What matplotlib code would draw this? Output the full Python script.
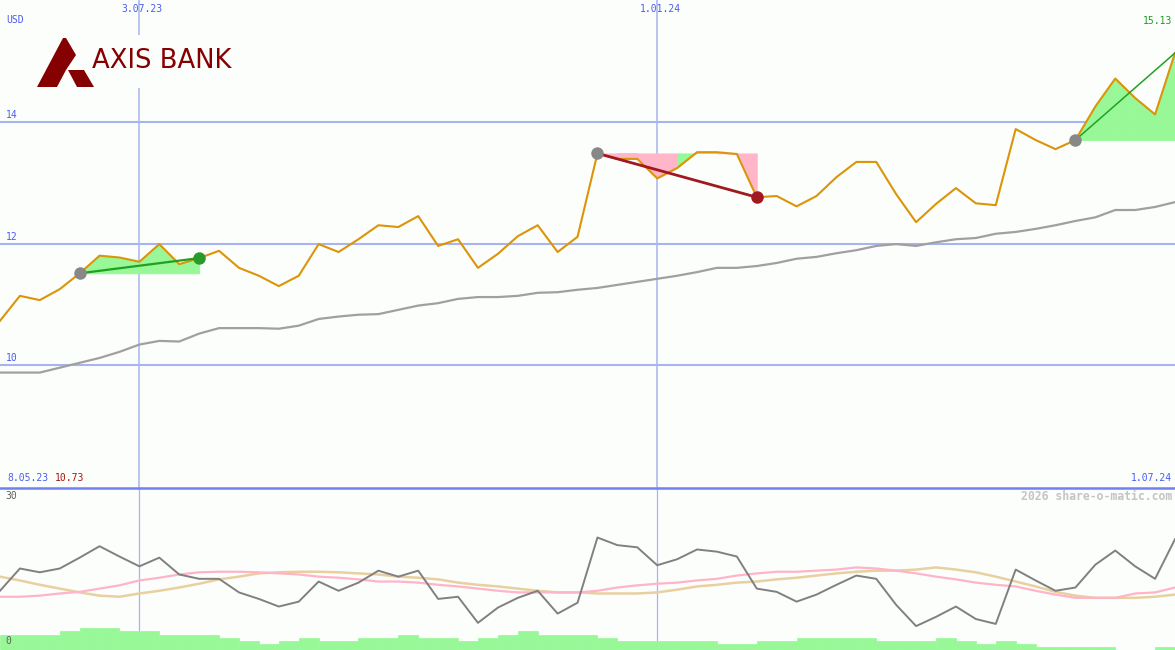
import matplotlib
matplotlib.use('Agg')
import matplotlib.pyplot as plt
import matplotlib.transforms as mtrans
from matplotlib.patches import Polygon, Rectangle
from matplotlib.lines import Line2D
import pandas as pd

# ---------------- data ----------------
dates = pd.date_range('2023-05-15', periods=60, freq='7D')

price = [10.73, 11.14, 11.07, 11.25, 11.51, 11.80, 11.77, 11.70, 11.99, 11.66,
         11.76, 11.88, 11.60, 11.47, 11.30, 11.47, 11.99, 11.86, 12.07, 12.30,
         12.27, 12.45, 11.96, 12.07, 11.60, 11.83, 12.12, 12.30, 11.86, 12.11,
         13.48, 13.39, 13.39, 13.07, 13.24, 13.50, 13.50, 13.47, 12.76, 12.78,
         12.61, 12.78, 13.09, 13.34, 13.34, 12.81, 12.35, 12.65, 12.91, 12.66,
         12.63, 13.88, 13.70, 13.55, 13.70, 14.25, 14.71, 14.39, 14.12, 15.13]

moving_avg = [9.88, 9.88, 9.88, 9.96, 10.04, 10.12, 10.22, 10.34, 10.40, 10.39,
              10.52, 10.61, 10.61, 10.61, 10.60, 10.65, 10.76, 10.80, 10.83, 10.84,
              10.91, 10.98, 11.02, 11.09, 11.12, 11.12, 11.14, 11.19, 11.20, 11.24,
              11.27, 11.32, 11.37, 11.42, 11.47, 11.53, 11.60, 11.60, 11.63, 11.68,
              11.75, 11.78, 11.84, 11.89, 11.96, 11.99, 11.96, 12.02, 12.07, 12.09,
              12.16, 12.19, 12.24, 12.30, 12.37, 12.43, 12.55, 12.55, 12.60, 12.68]

osc_main = [10.9, 15.0, 14.3, 15.0, 17.0, 19.1, 17.2, 15.4, 17.0, 13.9,
            13.1, 13.1, 10.6, 9.4, 8.0, 8.9, 12.6, 10.9, 12.4, 14.6,
            13.5, 14.6, 9.4, 9.8, 5.0, 7.8, 9.6, 10.9, 6.7, 8.7,
            20.7, 19.3, 18.9, 15.6, 16.7, 18.5, 18.1, 17.2, 11.3, 10.7,
            8.9, 10.2, 12.0, 13.7, 13.1, 8.3, 4.4, 6.1, 8.0, 5.7,
            4.8, 14.8, 12.8, 10.9, 11.5, 15.7, 18.3, 15.4, 13.1, 20.4]

osc_pink = [9.8, 9.8, 10.0, 10.4, 10.7, 11.3, 11.9, 12.8, 13.3, 13.9,
            14.3, 14.4, 14.4, 14.3, 14.1, 13.9, 13.5, 13.3, 13.0, 12.6,
            12.6, 12.4, 12.0, 11.7, 11.3, 10.9, 10.6, 10.6, 10.6, 10.6,
            10.9, 11.5, 11.9, 12.2, 12.4, 12.8, 13.1, 13.7, 14.1, 14.4,
            14.4, 14.6, 14.8, 15.2, 15.0, 14.6, 14.1, 13.5, 13.0, 12.4,
            12.0, 11.7, 10.9, 10.2, 9.6, 9.6, 9.6, 10.4, 10.6, 11.5]

osc_tan = [13.5, 12.8, 12.0, 11.3, 10.6, 10.0, 9.8, 10.4, 10.9, 11.5,
           12.2, 13.0, 13.5, 14.1, 14.3, 14.4, 14.4, 14.3, 14.1, 13.9,
           13.5, 13.3, 13.0, 12.4, 12.0, 11.7, 11.3, 10.9, 10.6, 10.6,
           10.4, 10.4, 10.4, 10.6, 11.1, 11.7, 12.0, 12.4, 12.6, 13.0,
           13.3, 13.7, 14.1, 14.4, 14.6, 14.6, 14.8, 15.2, 14.8, 14.3,
           13.5, 12.6, 11.7, 10.7, 10.0, 9.6, 9.6, 9.6, 9.8, 10.2]

volume = [2.8, 2.8, 2.8, 3.5, 4.05, 4.05, 3.5, 3.5, 2.8, 2.8,
          2.8, 2.2, 1.66, 1.1, 1.66, 2.2, 1.66, 1.66, 2.2, 2.2,
          2.8, 2.2, 2.2, 1.66, 2.2, 2.8, 3.5, 2.8, 2.8, 2.8,
          2.2, 1.66, 1.66, 1.66, 1.66, 1.66, 1.1, 1.1, 1.66, 1.66,
          2.2, 2.2, 2.2, 2.2, 1.66, 1.66, 1.66, 2.2, 1.66, 1.1,
          1.66, 1.1, 0.55, 0.55, 0.55, 0.55, 0.0, 0.0, 0.55]

trend_start = [4, 30, 54]
trend_end = [10, 38, 59]
trend_color = ['#22a022', '#a01820', '#22a022']
trend_width = [1.6, 2.0, 1.1]
end_marker = ['#2a9a2a', '#a01820', None]
# fill colour per week inside each trend window
fill_cols = [['g'] * 6,
             ['p', 'p', 'p', 'p', 'g', 'g', 'p', 'p'],
             ['g'] * 5]

grid_dates = [pd.Timestamp('2023-07-03'), pd.Timestamp('2024-01-01')]
grid_labels = ['3.07.23', '1.01.24']
price_ticks = [10, 12, 14]

# ---------------- styling ----------------
W, H = 1175, 650
bg = '#fcfefc'
grid_c = '#a8b4f0'
blue_txt = '#4a5cf0'
orange = '#dc9408'
fgreen = '#98f898'
fpink = '#ffb6c8'
mono = ['DejaVu Sans Mono']

fig = plt.figure(figsize=(W / 100, H / 100), dpi=100)
fig.patch.set_facecolor(bg)
ax = fig.add_axes([0, 163 / H, 1, 487 / H])
ax2 = fig.add_axes([0, 0, 1, 163 / H], sharex=ax)
for a in (ax, ax2):
    a.set_facecolor(bg)
    for s in a.spines.values():
        s.set_visible(False)
    a.tick_params(left=False, bottom=False, labelleft=False, labelbottom=False)

ax.set_xlim(dates[0], dates[-1])
ax.set_ylim(8.0, 16.0)
ax2.set_ylim(0, 30)

# grid
for v in price_ticks:
    ax.axhline(v, color=grid_c, lw=1.5, zorder=1)
for d in grid_dates:
    ax.axvline(d, color=grid_c, lw=1.1, zorder=1)
    ax2.axvline(d, color=grid_c, lw=0.9, zorder=1)

# moving average and price
ax.plot(dates, moving_avg, color='#a0a0a0', lw=1.6, zorder=3)

# trend fills
for s, e, cols in zip(trend_start, trend_end, fill_cols):
    base = price[s]
    for k, i in enumerate(range(s, e)):
        c = fgreen if cols[k] == 'g' else fpink
        ax.fill_between(dates[i:i + 2], price[i:i + 2], base, facecolor=c,
                        edgecolor=c, lw=0.6, zorder=2)

ax.plot(dates, price, color=orange, lw=1.5, zorder=4)

for s, e, c, w, m in zip(trend_start, trend_end, trend_color, trend_width, end_marker):
    ax.plot([dates[s], dates[e]], [price[s], price[e]], color=c, lw=w, zorder=5)
    ax.plot(dates[s], price[s], 'o', color='#888888', ms=9, mec='none', zorder=6, clip_on=False)
    if m is not None:
        ax.plot(dates[e], price[e], 'o', color=m, ms=9, mec='none', zorder=6)

# lower panel
ax2.bar(dates[:-1], volume, width=7, align='edge', color=fgreen, lw=0.5,
        edgecolor=fgreen, zorder=1)
ax2.plot(dates, osc_tan, color='#e8d0a0', lw=1.8, zorder=2)
ax2.plot(dates, osc_pink, color='#ffb4c8', lw=1.6, zorder=3)
ax2.plot(dates, osc_main, color='#808080', lw=1.4, zorder=4)

# separator
fig.add_artist(Line2D([0, 1], [162.5 / H, 162.5 / H], color='#7080f0', lw=1.8,
                      transform=fig.transFigure))

# texts
def P(x, y):
    return (x / W, 1 - y / H)

bx = mtrans.offset_copy(mtrans.blended_transform_factory(ax.transData, ax.transAxes),
                        fig=fig, x=3, y=0, units='dots')
for d, lab in zip(grid_dates, grid_labels):
    ax.text(d, 1 - 9 / 487, lab, transform=bx, ha='center', va='center',
            fontsize=7, color=blue_txt, family=mono)

by = mtrans.blended_transform_factory(ax.transAxes, ax.transData)
for v in price_ticks:
    ax.text(6 / W, v + 0.03, str(v), transform=by, ha='left', va='bottom',
            fontsize=7, color=blue_txt, family=mono)

fig.text(*P(6, 20), 'USD', ha='left', va='center', fontsize=7, color=blue_txt, family=mono)
fig.text(*P(1172, 21), f'{price[-1]:.2f}', ha='right', va='center', fontsize=7,
         color='#229a22', family=mono)
fig.text(*P(7, 478), '8.05.23', ha='left', va='center',
         fontsize=7, color=blue_txt, family=mono)
fig.text(*P(55, 478), f'{price[0]:.2f}', ha='left', va='center', fontsize=7,
         color='#a01818', family=mono)
fig.text(*P(1172, 478), dates[-1].strftime('%-d.%m.%y'), ha='right', va='center',
         fontsize=7, color=blue_txt, family=mono)
fig.text(*P(5, 496), '30', ha='left', va='center', fontsize=7, color='#606060', family=mono)
fig.text(*P(5, 641), '0', ha='left', va='center', fontsize=7, color='#606060', family=mono)
fig.text(*P(1172, 496), '2026 share-o-matic.com', ha='right', va='center', fontsize=8.3,
         color='#c4c4c4', family=mono, weight='bold')

# logo
logo_red = '#850000'
fig.add_artist(Rectangle(P(30, 88), 215 / W, 53 / H, transform=fig.transFigure,
                         facecolor=bg, edgecolor='none', zorder=10))
left_piece = [P(37, 87), P(63, 38), P(66, 38), P(76, 55), P(66, 70), P(57, 87)]
right_piece = [P(68, 70), P(84, 70), P(94, 87), P(77, 87)]
for poly in (left_piece, right_piece):
    fig.add_artist(Polygon(poly, closed=True, transform=fig.transFigure,
                           facecolor=logo_red, edgecolor='none', zorder=11))
fig.text(*P(92, 68), 'AXIS BANK', ha='left', va='baseline', fontsize=18.6,
         color=logo_red, family=['DejaVu Sans'], zorder=12)

fig.savefig('out.png', dpi=100, facecolor=bg)
